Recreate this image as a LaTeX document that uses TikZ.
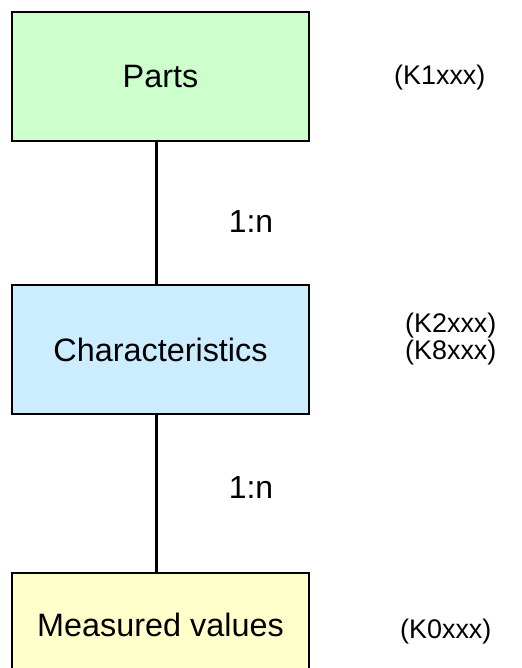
\documentclass[tikz,border=0pt]{standalone}
\usepackage{fontspec}
\setmainfont{Liberation Sans}
\definecolor{partsgreen}{HTML}{CCFFCC}
\definecolor{charblue}{HTML}{CCECFF}
\definecolor{measyellow}{HTML}{FFFFCC}
\tikzset{
  entity/.style={draw=black, line width=2bp, minimum width=297bp, minimum height=129bp, inner sep=0pt, font=\fontsize{32.5}{38}\selectfont},
  link/.style={draw=black, line width=3bp},
  card/.style={inner sep=0pt, font=\fontsize{32}{38}\selectfont},
  code/.style={inner sep=0pt, align=left, font=\fontsize{27}{27}\selectfont},
}
\begin{document}
\begin{tikzpicture}[x=1bp, y=-1bp]
  \useasboundingbox (0,0) rectangle (522,668);
  \clip (0,0) rectangle (522,668);
  \fill[white] (0,0) rectangle (522,668);
  \node[entity, fill=partsgreen] (parts) at (160.5,76.5) {Parts};
  \node[entity, fill=charblue] (char) at (160.5,349.5) {Characteristics};
  \node[entity, fill=measyellow, minimum height=104bp] (meas) at (160.5,625) {Measured values};
  \coordinate (lx) at (156,0);
  \draw[link] (parts.south -| lx) -- (char.north -| lx);
  \draw[link] (char.south -| lx) -- (meas.north -| lx);
  \node[card] (c1) at (251,222) {1:n};
  \node[card] (c2) at (251,488) {1:n};
  \node[code, anchor=west] (k1) at (394,78) {(K1xxx)};
  \node[code, anchor=west] (k2) at (405,339) {(K2xxx)\\(K8xxx)};
  \node[code, anchor=west] (k0) at (400,632) {(K0xxx)};
\end{tikzpicture}
\end{document}
